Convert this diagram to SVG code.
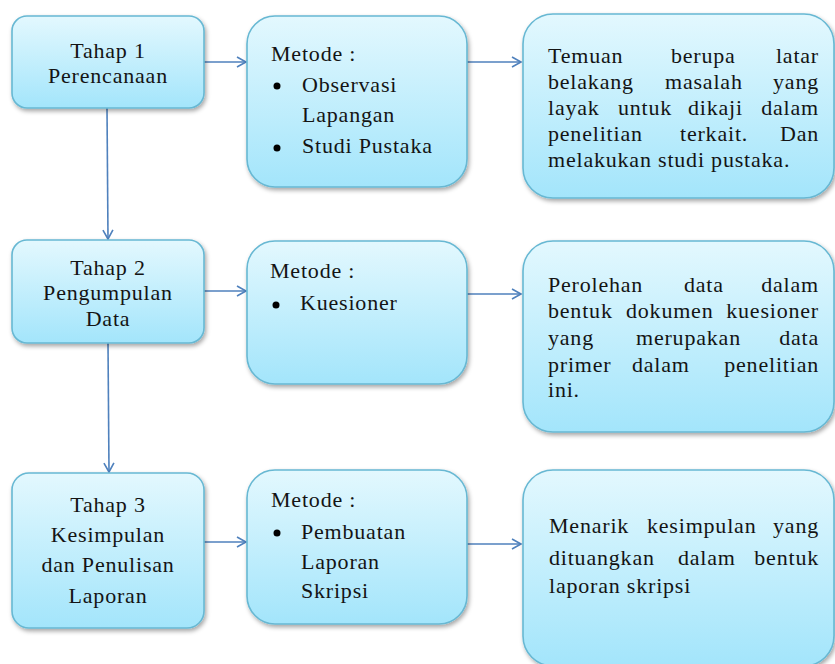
<svg xmlns="http://www.w3.org/2000/svg" width="835" height="664" viewBox="0 0 835 664" font-family="Liberation Serif, DejaVu Serif, serif">
<style>
.box{fill:url(#g);stroke:#67b8d3;stroke-width:1.6;filter:url(#sh)}
.t{font-family:'Liberation Serif','DejaVu Serif',serif;font-size:22px;letter-spacing:0.8px;fill:#141414}
.c{text-anchor:middle}
.e{text-anchor:end}
.con{stroke:#4f81bd;stroke-width:1.6;fill:none;marker-end:url(#ah)}
.b{fill:#000}
</style>
<defs>
<linearGradient id="g" x1="0" y1="0" x2="0" y2="1">
<stop offset="0" stop-color="#e3f8fe"/>
<stop offset="1" stop-color="#a3e5fb"/>
</linearGradient>
<filter id="sh" x="-10%" y="-10%" width="125%" height="125%">
<feDropShadow dx="1.5" dy="2.5" stdDeviation="2" flood-color="#000" flood-opacity="0.35"/>
</filter>
<marker id="ah" markerWidth="12" markerHeight="12" refX="10" refY="6" orient="auto" markerUnits="userSpaceOnUse">
<path d="M1,1 L10,6 L1,11" fill="none" stroke="#4f81bd" stroke-width="1.6"/>
</marker>
</defs>
<rect width="835" height="664" fill="#fff"/>

<g id="connectors">
<line class="con" x1="204" y1="62" x2="246" y2="62"/>
<line class="con" x1="467" y1="62" x2="521" y2="62"/>
<line class="con" x1="107" y1="108" x2="108" y2="239"/>
<line class="con" x1="204" y1="291" x2="246" y2="291"/>
<line class="con" x1="467" y1="294" x2="521" y2="294"/>
<line class="con" x1="108" y1="343" x2="109" y2="472"/>
<line class="con" x1="204" y1="542" x2="246" y2="542"/>
<line class="con" x1="467" y1="544" x2="521" y2="544"/>
</g>

<g id="tahap1">
<rect class="box" x="12" y="16" width="192" height="92" rx="15"/>
<text class="t c" x="108" y="58">Tahap 1</text>
<text class="t c" x="108" y="83">Perencanaan</text>
</g>
<g id="metode1">
<rect class="box" x="247" y="16" width="220" height="171" rx="28"/>
<text class="t" x="271" y="61">Metode :</text>
<circle class="b" cx="277" cy="86" r="3.5"/>
<text class="t" x="302" y="92">Observasi</text>
<text class="t" x="302" y="122">Lapangan</text>
<circle class="b" cx="277" cy="148" r="3.5"/>
<text class="t" x="302" y="153">Studi Pustaka</text>
</g>
<g id="hasil1">
<rect class="box" x="523" y="14" width="311" height="184" rx="30"/>
<text class="t" y="63"><tspan x="548">Temuan</tspan><tspan x="671">berupa</tspan></text>
<text class="t e" x="819" y="63">latar</text>
<text class="t" y="89"><tspan x="548">belakang</tspan><tspan x="665">masalah</tspan></text>
<text class="t e" x="819" y="89">yang</text>
<text class="t" y="115"><tspan x="548">layak</tspan><tspan x="618">untuk</tspan><tspan x="688">dikaji</tspan></text>
<text class="t e" x="819" y="115">dalam</text>
<text class="t" y="141"><tspan x="548">penelitian</tspan><tspan x="680">terkait.</tspan></text>
<text class="t e" x="819" y="141">Dan</text>
<text class="t" x="548" y="167">melakukan studi pustaka.</text>
</g>

<g id="tahap2">
<rect class="box" x="12" y="240" width="192" height="103" rx="15"/>
<text class="t c" x="108" y="275">Tahap 2</text>
<text class="t c" x="108" y="300">Pengumpulan</text>
<text class="t c" x="108" y="326">Data</text>
</g>
<g id="metode2">
<rect class="box" x="247" y="241" width="220" height="143" rx="28"/>
<text class="t" x="270" y="278">Metode :</text>
<circle class="b" cx="276" cy="305" r="3.5"/>
<text class="t" x="300" y="310">Kuesioner</text>
</g>
<g id="hasil2">
<rect class="box" x="523" y="241" width="311" height="191" rx="30"/>
<text class="t" y="292"><tspan x="548">Perolehan</tspan><tspan x="684">data</tspan></text>
<text class="t e" x="819" y="292">dalam</text>
<text class="t" y="318"><tspan x="548">bentuk</tspan><tspan x="626">dokumen</tspan></text>
<text class="t e" x="819" y="318">kuesioner</text>
<text class="t" y="345"><tspan x="548">yang</tspan><tspan x="636">merupakan</tspan></text>
<text class="t e" x="819" y="345">data</text>
<text class="t" y="372"><tspan x="548">primer</tspan><tspan x="632">dalam</tspan></text>
<text class="t e" x="819" y="372">penelitian</text>
<text class="t" x="548" y="397">ini.</text>
</g>

<g id="tahap3">
<rect class="box" x="12" y="473" width="192" height="155" rx="17"/>
<text class="t c" x="108" y="512">Tahap 3</text>
<text class="t c" x="108" y="542">Kesimpulan</text>
<text class="t c" x="108" y="572">dan Penulisan</text>
<text class="t c" x="108" y="603">Laporan</text>
</g>
<g id="metode3">
<rect class="box" x="247" y="470" width="220" height="154" rx="28"/>
<text class="t" x="271" y="507">Metode :</text>
<circle class="b" cx="277" cy="533" r="3.5"/>
<text class="t" x="301" y="539">Pembuatan</text>
<text class="t" x="301" y="569">Laporan</text>
<text class="t" x="301" y="598">Skripsi</text>
</g>
<g id="hasil3">
<rect class="box" x="523" y="470" width="311" height="196" rx="30"/>
<text class="t" y="533"><tspan x="549">Menarik</tspan><tspan x="647">kesimpulan</tspan></text>
<text class="t e" x="819" y="533">yang</text>
<text class="t" y="565"><tspan x="549">dituangkan</tspan><tspan x="678">dalam</tspan></text>
<text class="t e" x="819" y="565">bentuk</text>
<text class="t" x="549" y="593">laporan skripsi</text>
</g>
</svg>
